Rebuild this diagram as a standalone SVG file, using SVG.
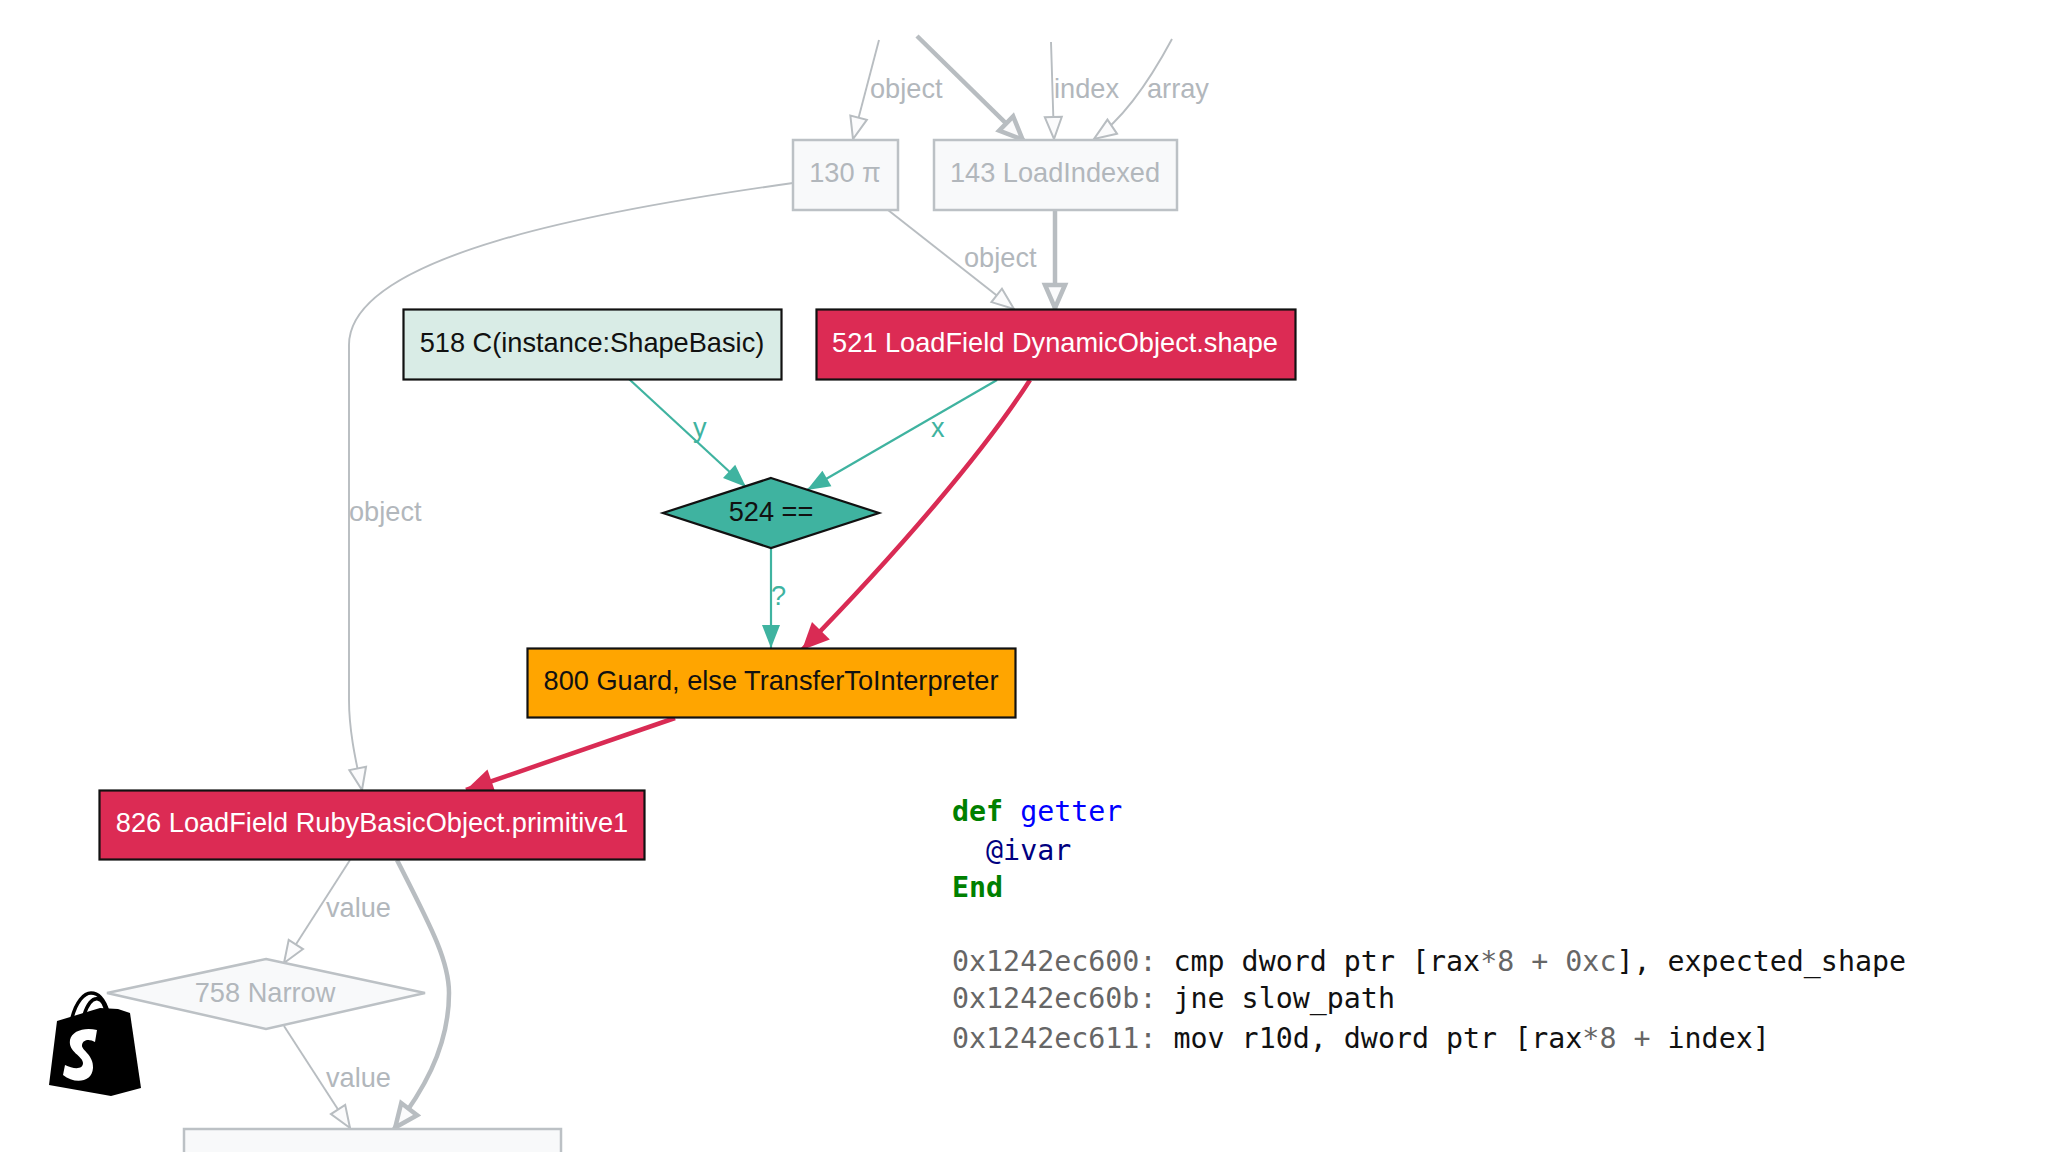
<svg xmlns="http://www.w3.org/2000/svg" width="2048" height="1152" viewBox="0 0 2048 1152">
<style>
text{font-family:"Liberation Sans",Arial,sans-serif;font-size:27.2px}
.nt{text-anchor:middle}
.dim rect,.dim polygon{fill:#f8f9fa;stroke:#bcc1c5;stroke-width:2.5}
.dim text{fill:#b2b7bc}
.lab{fill:#b2b7bc}
.tl{fill:#3fb3a0}
.e{fill:none;stroke:#b8bdc1;stroke-width:1.9}
.et{fill:none;stroke:#b8bdc1;stroke-width:4.5}
.g{fill:none;stroke:#3fb3a0;stroke-width:2.2}
.r{fill:none;stroke:#d92b54;stroke-width:4.5}
.blk{stroke:#111;stroke-width:2.2}
.code text{font-family:"DejaVu Sans Mono","Liberation Mono",monospace;font-size:28.3px;fill:#111;white-space:pre}
.ad{fill:#666}
</style>
<defs>
<marker id="o" markerUnits="userSpaceOnUse" markerWidth="28" markerHeight="24" viewBox="0 0 28 24" refX="25" refY="12" orient="auto"><path d="M3,3.500 L25,12 L3,20.500 Z" fill="#fbfbfc" stroke="#b8bdc1" stroke-width="2"/></marker>
<marker id="ot" markerUnits="userSpaceOnUse" markerWidth="32" markerHeight="30" viewBox="0 0 32 30" refX="29" refY="15" orient="auto"><path d="M4,5 L27,15 L4,25 Z" fill="#fbfbfc" stroke="#b8bdc1" stroke-width="4.500"/></marker>
<marker id="g" markerUnits="userSpaceOnUse" markerWidth="26" markerHeight="20" viewBox="0 0 26 20" refX="24" refY="10" orient="auto"><path d="M1,1 L24,10 L1,19 Z" fill="#3fb3a0"/></marker>
<marker id="r" markerUnits="userSpaceOnUse" markerWidth="30" markerHeight="28" viewBox="0 0 30 28" refX="28" refY="14" orient="auto"><path d="M1,1.500 L28,14 L1,26.500 Z" fill="#d92b54"/></marker>
</defs>
<rect width="2048" height="1152" fill="#fff"/>
<g id="connectors">
<path class="e" marker-end="url(#o)" d="M879,40 L853,139"/>
<path class="et" marker-end="url(#ot)" d="M917,36 L1024,141"/>
<path class="e" marker-end="url(#o)" d="M1051,42 L1054,139"/>
<path class="e" marker-end="url(#o)" d="M1172,39 C1150,80 1125,118 1094,139"/>
<path class="e" marker-end="url(#o)" d="M888,210 L1014,309"/>
<path class="et" marker-end="url(#ot)" d="M1055,210 L1055,310"/>
<path class="e" marker-end="url(#o)" d="M793,183 C600,210 349,255 349,345 L349,700 C349,735 358,770 362,790"/>
<path class="g" marker-end="url(#g)" d="M629,379 L746,487"/>
<path class="g" marker-end="url(#g)" d="M997,380 L807,490"/>
<path class="g" marker-end="url(#g)" d="M771,548 L771,648"/>
<path class="r" marker-end="url(#r)" d="M1030,380 C985,450 900,550 802,650"/>
<path class="r" marker-end="url(#r)" d="M675,718 L466,790"/>
<path class="e" marker-end="url(#o)" d="M350,860 L284,963"/>
<path class="et" marker-end="url(#ot)" d="M397,860 C430,925 449,960 449,993 C449,1050 420,1095 394,1129"/>
<path class="e" marker-end="url(#o)" d="M284,1026 L350,1128"/>
<text class="lab" x="870" y="98">object</text>
<text class="lab" x="1054" y="98">index</text>
<text class="lab" x="1147" y="98">array</text>
<text class="lab" x="964" y="267">object</text>
<text class="lab" x="349" y="521">object</text>
<text class="tl" x="693" y="437">y</text>
<text class="tl" x="931" y="437">x</text>
<text class="tl" x="771" y="605">?</text>
<text class="lab" x="326" y="917">value</text>
<text class="lab" x="326" y="1087">value</text>
</g>
<g id="n130" class="dim"><rect x="793" y="140" width="105" height="70"/><text class="nt" x="845" y="182">130 π</text></g>
<g id="n143" class="dim"><rect x="934" y="140" width="243" height="70"/><text class="nt" x="1055" y="182">143 LoadIndexed</text></g>
<g id="n518"><rect class="blk" x="403.500" y="309.500" width="378" height="70" fill="#d9ece6"/><text class="nt" x="592" y="352" fill="#111">518 C(instance:ShapeBasic)</text></g>
<g id="n521"><rect class="blk" x="816.500" y="309.500" width="479" height="70" fill="#dc2b54"/><text class="nt" x="1055" y="352" fill="#fff">521 LoadField DynamicObject.shape</text></g>
<g id="n524"><polygon class="blk" points="771,478 879,513 771,548 663,513" fill="#3fb3a0"/><text class="nt" x="771" y="521" fill="#111">524 ==</text></g>
<g id="n800"><rect class="blk" x="527.500" y="648.500" width="488" height="69" fill="#ffa500"/><text class="nt" x="771" y="690" fill="#111">800 Guard, else TransferToInterpreter</text></g>
<g id="n826"><rect class="blk" x="99.500" y="790.500" width="545" height="69" fill="#dc2b54"/><text class="nt" x="372" y="832" fill="#fff">826 LoadField RubyBasicObject.primitive1</text></g>
<g id="n758" class="dim"><polygon points="266,959 425,993 266,1029 107,993"/><text class="nt" x="265" y="1002">758 Narrow</text></g>
<g id="n825" class="dim"><rect x="184" y="1129" width="377" height="40"/></g>
<g id="logo">
<path d="M49,1085 L57,1021 L100,1008 L118,1009 L130,1013 L141,1088 L111,1096 Z" fill="#000"/>
<path d="M72,1018 C76,1002 84,993 91,993 C100,993 105,1002 108,1012 M84,1015 C88,1003 93,998 98,999 C103,1000 105,1006 106,1012" fill="none" stroke="#000" stroke-width="3.500"/>
<path d="M97,1030 C84,1027 72,1031 70,1040 C68,1052 83,1056 83,1063 C83,1070 73,1069 65,1065 L63,1075 C74,1084 92,1083 93,1068 C94,1055 81,1050 82,1045 C83,1039 90,1039 95,1042 Z" fill="#fff"/>
</g>
<g id="code" class="code" xml:space="preserve">
<text x="952" y="821"><tspan fill="#008000" font-weight="bold">def</tspan> <tspan fill="#0000ff">getter</tspan></text>
<text x="952" y="860" fill="#000080"><tspan fill="#000080">  @ivar</tspan></text>
<text x="952" y="897"><tspan fill="#008000" font-weight="bold">End</tspan></text>
<text x="952" y="971"><tspan class="ad">0x1242ec600:</tspan> cmp dword ptr [rax<tspan class="ad">*8 + 0xc</tspan>], expected_shape</text>
<text x="952" y="1008"><tspan class="ad">0x1242ec60b:</tspan> jne slow_path</text>
<text x="952" y="1048"><tspan class="ad">0x1242ec611:</tspan> mov r10d, dword ptr [rax<tspan class="ad">*8 +</tspan> index]</text>
</g>
</svg>
